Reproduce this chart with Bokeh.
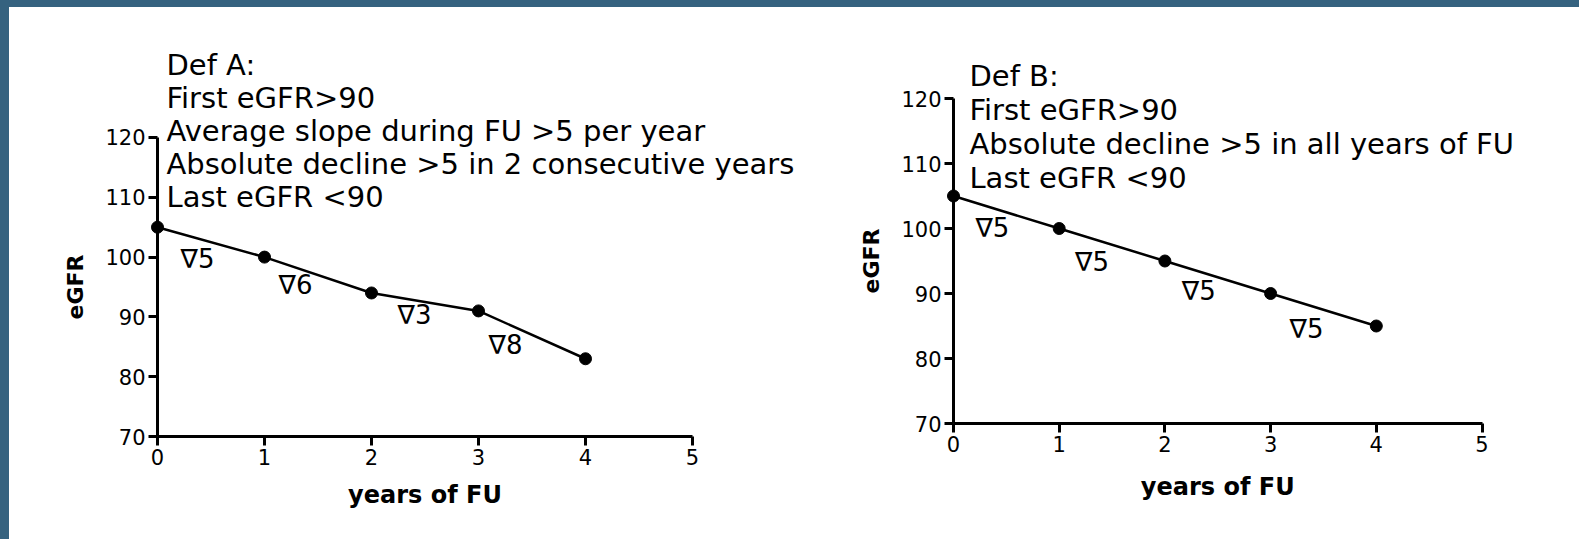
import numpy as np
from bokeh.plotting import figure
from bokeh.layouts import row, column
from bokeh.models import FixedTicker, ColumnDataSource, Spacer
from bokeh.embed import file_html
from bokeh.resources import INLINE
from bokeh.core.properties import value

# ---------------- data ----------------
years = [0, 1, 2, 3, 4]
egfr_a = [105, 100, 94, 91, 83]
egfr_b = [105, 100, 95, 90, 85]
x_ticks = [0, 1, 2, 3, 4, 5]
y_ticks = [70, 80, 90, 100, 110, 120]
x_title = "years of FU"
y_title = "eGFR"
def_a_lines = ["Def A:", "First eGFR>90", "Average slope during FU >5 per year",
               "Absolute decline >5 in 2 consecutive years", "Last eGFR <90"]
def_b_lines = ["Def B:", "First eGFR>90", "Absolute decline >5 in all years of FU",
               "Last eGFR <90"]

FONT = "DejaVu Sans"
FRAME_BLUE = "#35627f"
FIG_H = 532
LIFT = -9  # screen-pixel correction for alphabetic-baseline texts


def style_axis(ax):
    ax.axis_line_width = 3
    ax.axis_line_color = "black"
    ax.major_tick_line_width = 3
    ax.major_tick_line_color = "black"
    ax.major_tick_out = 9
    ax.major_tick_in = 0
    ax.minor_tick_out = 0
    ax.minor_tick_in = 0
    ax.major_label_text_font = FONT
    ax.major_label_text_font_size = "21px"
    ax.major_label_text_color = "black"
    ax.major_label_standoff = 3


def make_panel(x, y, lines, width, x_range, y_range, text_x, text_y0, text_step,
               nudge_dx, nudge_dy, ytitle_dx, xtitle_dy):
    # the frame fills the whole figure; the axes are pinned at x=0 and y=70
    p = figure(width=width, height=FIG_H, x_range=x_range, y_range=y_range,
               output_backend="svg", toolbar_location=None,
               min_border_left=0, min_border_right=0,
               min_border_top=0, min_border_bottom=0,
               background_fill_color="white", border_fill_color="white")
    p.outline_line_color = None
    p.grid.visible = False

    xa = p.xaxis[0]
    style_axis(xa)
    xa.bounds = (x_ticks[0], x_ticks[-1])
    xa.ticker = FixedTicker(ticks=x_ticks)
    xa.fixed_location = y_ticks[0]

    ya = p.yaxis[0]
    style_axis(ya)
    ya.bounds = (y_ticks[0], y_ticks[-1])
    ya.ticker = FixedTicker(ticks=y_ticks)
    ya.fixed_location = x_ticks[0]

    # axis titles, centred on the drawn axis extents
    p.text(x=[x_ticks[0]], y=[(y_ticks[0] + y_ticks[-1]) / 2], text=[y_title],
           x_offset=ytitle_dx, angle=np.pi / 2, text_align="center", text_baseline="middle",
           text_font=value(FONT), text_font_size="22px", text_font_style="bold",
           text_color="black")
    p.text(x=[(x_ticks[0] + x_ticks[-1]) / 2], y=[y_ticks[0]], text=[x_title],
           y_offset=xtitle_dy + LIFT, text_align="center", text_baseline="alphabetic",
           text_font=value(FONT), text_font_size="24px", text_font_style="bold",
           text_color="black")

    # series
    p.line(x, y, line_width=2.5, line_color="black")
    p.scatter(x, y, size=12, fill_color="black", line_color="black")

    # decline annotations between consecutive years
    xs = np.array(x, dtype=float)
    ys = np.array(y, dtype=float)
    drops = ["\u2207%d" % (a - b) for a, b in zip(y[:-1], y[1:])]
    src = ColumnDataSource(dict(
        x=(xs[:-1] + xs[1:]) / 2, y=(ys[:-1] + ys[1:]) / 2, text=drops,
        dx=nudge_dx, dy=[d + LIFT for d in nudge_dy]))
    p.text(x="x", y="y", text="text", x_offset="dx", y_offset="dy", source=src,
           text_font=value(FONT), text_font_size="26px", text_color="black",
           text_align="center", text_baseline="alphabetic")

    # definition text block
    n = len(lines)
    tsrc = ColumnDataSource(dict(
        x=[text_x] * n, y=[text_y0 - i * text_step for i in range(n)], text=lines))
    p.text(x="x", y="y", text="text", source=tsrc, y_offset=LIFT,
           text_font=value(FONT), text_font_size="29px", text_color="black",
           text_align="left", text_baseline="alphabetic")
    return p


p1 = make_panel(years, egfr_a, def_a_lines, width=831,
                x_range=(-1.3832, 6.3832), y_range=(52.776, 141.739),
                text_x=0.084, text_y0=130.54, text_step=5.518,
                nudge_dx=[-13.5, -22.5, -10.5, -26.5], nudge_dy=[25.4, 18.5, 22.5, 18.7],
                ytitle_dx=-82.5, xtitle_dy=67)
p2 = make_panel(years, egfr_b, def_b_lines, width=739,
                x_range=(-1.0691, 5.9224), y_range=(52.154, 134.0),
                text_x=0.151, text_y0=122.15, text_step=5.23,
                nudge_dx=[-14, -20, -19, -17], nudge_dy=[25, 26, 23, 28],
                ytitle_dx=-82, xtitle_dy=72)

layout = column(
    Spacer(width=1579, height=7, styles={"background-color": FRAME_BLUE}),
    row(Spacer(width=9, height=FIG_H, styles={"background-color": FRAME_BLUE}),
        p1, p2, spacing=0),
    spacing=0,
)

open("out.html", "w").write(file_html(layout, INLINE, title="eGFR decline definitions"))
